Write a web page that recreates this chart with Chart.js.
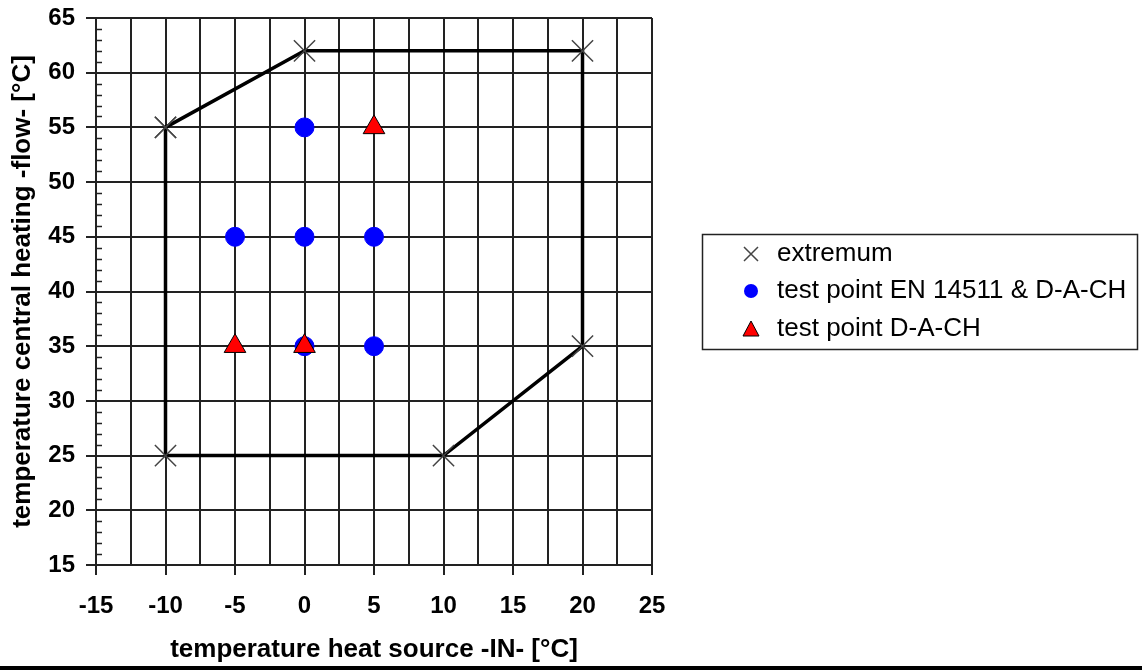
<!DOCTYPE html>
<html>
<head>
<meta charset="utf-8">
<script src="https://cdn.jsdelivr.net/npm/chart.js@4/dist/chart.umd.min.js"></script>
<style>
  html, body { margin: 0; padding: 0; background: #fff; }
  #wrap { width: 1142px; height: 670px; }
</style>
</head>
<body>
<div id="wrap"><canvas id="c" width="1142" height="670"></canvas></div>
<script>
// ---- data ----
const extremumX = [-10, 0, 20, 20, 10, -10, -10];
const extremumY = [55, 62, 62, 35, 25, 25, 55];
const enX = [0, -5, 0, 5, 0, 5];
const enY = [55, 45, 45, 45, 35, 35];
const dachX = [5, -5, 0];
const dachY = [55, 35, 35];
const xTickLabels = [-15, -10, -5, 0, 5, 10, 15, 20, 25];
const yTickLabels = [15, 20, 25, 30, 35, 40, 45, 50, 55, 60, 65];
const seriesNames = ['extremum', 'test point EN 14511 & D-A-CH', 'test point D-A-CH'];
const xTitle = 'temperature heat source -IN- [°C]';
const yTitle = 'temperature central heating -flow- [°C]';

const pts = (xs, ys) => xs.map((x, i) => ({ x: x, y: ys[i] }));
const FONT = '"Liberation Sans", Arial, sans-serif';
const GRID = '#222';

const legendPlugin = {
  id: 'boxLegend',
  afterDraw(chart) {
    const ctx = chart.ctx;
    ctx.save();
    // bottom rule
    ctx.fillStyle = '#000';
    ctx.fillRect(0, 666, 1142, 4);
    // legend box
    ctx.strokeStyle = '#222';
    ctx.lineWidth = 1.5;
    ctx.strokeRect(702.5, 234.5, 435, 115);
    const rows = [254, 291, 329];
    const mx = 751;
    ctx.font = '26px ' + FONT;
    ctx.textBaseline = 'middle';
    ctx.textAlign = 'left';
    chart.data.datasets.forEach((ds, i) => {
      const y = rows[i];
      ctx.save();
      if (i === 0) {
        ctx.strokeStyle = '#444';
        ctx.lineWidth = 1.5;
        ctx.beginPath();
        ctx.moveTo(mx - 7, y - 7); ctx.lineTo(mx + 7, y + 7);
        ctx.moveTo(mx - 7, y + 7); ctx.lineTo(mx + 7, y - 7);
        ctx.stroke();
      } else if (i === 1) {
        ctx.fillStyle = '#0000ff';
        ctx.beginPath();
        ctx.arc(mx, y, 7, 0, Math.PI * 2);
        ctx.fill();
      } else {
        ctx.fillStyle = '#ff0000';
        ctx.strokeStyle = '#000';
        ctx.lineWidth = 1;
        ctx.beginPath();
        ctx.moveTo(mx, y - 8); ctx.lineTo(mx + 8, y + 7); ctx.lineTo(mx - 8, y + 7);
        ctx.closePath();
        ctx.fill(); ctx.stroke();
      }
      ctx.restore();
      ctx.fillStyle = '#000';
      ctx.fillText(ds.label, 777, y);
    });
    ctx.restore();
  }
};

const minorTickPlugin = {
  id: 'minorTicks',
  afterDatasetsDraw(chart) {
    const ys = chart.scales.y;
    const ctx = chart.ctx;
    const left = chart.chartArea.left;
    ctx.save();
    ctx.strokeStyle = GRID;
    ctx.lineWidth = 1.5;
    ys.ticks.forEach(t => {
      if (t.value % 5 !== 0) {
        const py = Math.round(ys.getPixelForValue(t.value)) + 0.5;
        ctx.beginPath();
        ctx.moveTo(left, py);
        ctx.lineTo(left + 6, py);
        ctx.stroke();
      }
    });
    ctx.restore();
  }
};

new Chart(document.getElementById('c'), {
  type: 'scatter',
  data: {
    datasets: [
      {
        label: seriesNames[0],
        data: pts(extremumX, extremumY),
        showLine: true,
        borderColor: '#000',
        borderWidth: 3.5,
        pointStyle: 'crossRot',
        pointRadius: 15,
        pointHoverRadius: 15,
        pointBorderColor: '#444',
        pointBorderWidth: 1.5,
        pointBackgroundColor: 'transparent',
        order: 3
      },
      {
        label: seriesNames[1],
        data: pts(enX, enY),
        pointStyle: 'circle',
        pointRadius: 9.5,
        pointHoverRadius: 9.5,
        backgroundColor: '#0000ff',
        borderColor: '#0000ff',
        borderWidth: 1,
        order: 2
      },
      {
        label: seriesNames[2],
        data: pts(dachX, dachY),
        pointStyle: 'triangle',
        pointRadius: 12.5,
        pointHoverRadius: 12.5,
        backgroundColor: '#ff0000',
        borderColor: '#000',
        borderWidth: 1,
        order: 1
      }
    ]
  },
  options: {
    responsive: false,
    animation: false,
    events: [],
    layout: { padding: { left: 0, top: 18, right: 490, bottom: 0 } },
    plugins: {
      legend: { display: false },
      tooltip: { enabled: false }
    },
    scales: {
      x: {
        type: 'linear',
        min: xTickLabels[0],
        max: xTickLabels[xTickLabels.length - 1],
        afterFit: s => { s.height = 105; s.paddingLeft = 0; s.paddingRight = 0; },
        ticks: {
          stepSize: 2.5,
          autoSkip: false,
          maxRotation: 0,
          padding: 17,
          color: '#000',
          font: { family: FONT, size: 24, weight: 'bold' },
          callback: v => xTickLabels.includes(v) ? String(v) : ''
        },
        grid: {
          color: GRID,
          lineWidth: 2,
          tickLength: 10,
          tickWidth: 2,
          tickColor: c => (c.tick && xTickLabels.includes(c.tick.value)) ? GRID : 'rgba(0,0,0,0)'
        },
        border: { display: true, color: GRID, width: 2 },
        title: {
          display: true,
          text: xTitle,
          color: '#000',
          font: { family: FONT, size: 26, weight: 'bold' },
          padding: { top: 0, bottom: 5 }
        }
      },
      y: {
        type: 'linear',
        min: yTickLabels[0],
        max: yTickLabels[yTickLabels.length - 1],
        afterFit: s => { s.width = 96; s.paddingTop = 0; s.paddingBottom = 0; },
        ticks: {
          stepSize: 1,
          autoSkip: false,
          padding: 11,
          color: '#000',
          font: { family: FONT, size: 24, weight: 'bold' },
          callback: v => yTickLabels.includes(v) ? String(v) : ''
        },
        grid: {
          color: c => (c.tick && yTickLabels.includes(c.tick.value)) ? GRID : 'rgba(0,0,0,0)',
          lineWidth: 2,
          tickLength: 10,
          tickWidth: 2,
          tickColor: c => (c.tick && yTickLabels.includes(c.tick.value)) ? GRID : 'rgba(0,0,0,0)'
        },
        border: { display: true, color: GRID, width: 2 },
        title: {
          display: true,
          text: yTitle,
          color: '#000',
          font: { family: FONT, size: 26, weight: 'bold' },
          padding: { top: 7, bottom: 0 }
        }
      }
    }
  },
  plugins: [minorTickPlugin, legendPlugin]
});
</script>
</body>
</html>
